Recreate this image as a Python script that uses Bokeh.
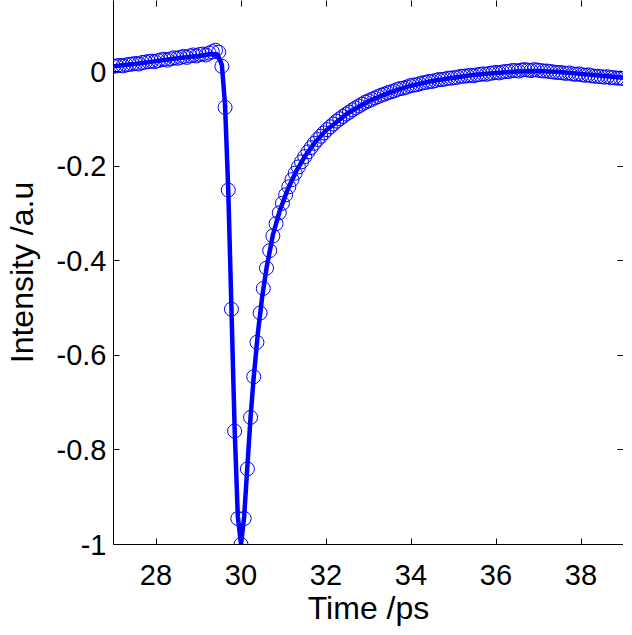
from bokeh.plotting import figure
from bokeh.models import LinearAxis, FixedTicker, Range1d, ColumnDataSource
from bokeh.embed import file_html
from bokeh.resources import INLINE

# ---------------- data ----------------
time_ps = [
    27.000, 27.075, 27.150, 27.225, 27.300, 27.375, 27.450, 27.525,
    27.600, 27.675, 27.750, 27.825, 27.900, 27.975, 28.050, 28.125,
    28.200, 28.275, 28.350, 28.425, 28.500, 28.575, 28.650, 28.725,
    28.800, 28.875, 28.950, 29.025, 29.100, 29.175, 29.250, 29.325,
    29.400, 29.475, 29.550, 29.625, 29.700, 29.775, 29.850, 29.925,
    30.000, 30.075, 30.150, 30.225, 30.300, 30.375, 30.450, 30.525,
    30.600, 30.675, 30.750, 30.825, 30.900, 30.975, 31.050, 31.125,
    31.200, 31.275, 31.350, 31.425, 31.500, 31.575, 31.650, 31.725,
    31.800, 31.875, 31.950, 32.025, 32.100, 32.175, 32.250, 32.325,
    32.400, 32.475, 32.550, 32.625, 32.700, 32.775, 32.850, 32.925,
    33.000, 33.075, 33.150, 33.225, 33.300, 33.375, 33.450, 33.525,
    33.600, 33.675, 33.750, 33.825, 33.900, 33.975, 34.050, 34.125,
    34.200, 34.275, 34.350, 34.425, 34.500, 34.575, 34.650, 34.725,
    34.800, 34.875, 34.950, 35.025, 35.100, 35.175, 35.250, 35.325,
    35.400, 35.475, 35.550, 35.625, 35.700, 35.775, 35.850, 35.925,
    36.000, 36.075, 36.150, 36.225, 36.300, 36.375, 36.450, 36.525,
    36.600, 36.675, 36.750, 36.825, 36.900, 36.975, 37.050, 37.125,
    37.200, 37.275, 37.350, 37.425, 37.500, 37.575, 37.650, 37.725,
    37.800, 37.875, 37.950, 38.025, 38.100, 38.175, 38.250, 38.325,
    38.400, 38.475, 38.550, 38.625, 38.700, 38.775, 38.850, 38.925,
    39.000,
]

intensity = [
    0.012, 0.013, 0.014, 0.013, 0.015, 0.016, 0.017, 0.018,
    0.017, 0.020, 0.021, 0.022, 0.023, 0.022, 0.024, 0.026,
    0.027, 0.025, 0.028, 0.030, 0.029, 0.031, 0.033, 0.031,
    0.034, 0.036, 0.034, 0.037, 0.038, 0.036, 0.040, 0.043,
    0.046, 0.042, 0.012, -0.075, -0.250, -0.502, -0.760, -0.945,
    -1.000, -0.945, -0.840, -0.731, -0.645, -0.572, -0.510, -0.458,
    -0.415, -0.378, -0.347, -0.321, -0.298, -0.278, -0.260, -0.243,
    -0.228, -0.214, -0.201, -0.190, -0.179, -0.169, -0.160, -0.151,
    -0.143, -0.136, -0.129, -0.122, -0.116, -0.110, -0.104, -0.099,
    -0.094, -0.089, -0.085, -0.080, -0.076, -0.072, -0.068, -0.064,
    -0.061, -0.058, -0.055, -0.052, -0.049, -0.047, -0.044, -0.042,
    -0.040, -0.037, -0.035, -0.034, -0.032, -0.029, -0.028, -0.027,
    -0.025, -0.023, -0.022, -0.020, -0.020, -0.018, -0.016, -0.016,
    -0.015, -0.013, -0.013, -0.012, -0.011, -0.009, -0.009, -0.008,
    -0.007, -0.008, -0.006, -0.005, -0.004, -0.005, -0.003, -0.002,
    -0.001, -0.002, 0.000, 0.001, 0.001, 0.003, 0.003, 0.002,
    0.004, 0.005, 0.004, 0.003, 0.005, 0.004, 0.003, 0.002,
    0.002, 0.001, 0.000, -0.001, -0.001, -0.002, -0.003, -0.002,
    -0.004, -0.005, -0.004, -0.006, -0.007, -0.006, -0.008, -0.009,
    -0.009, -0.010, -0.011, -0.010, -0.012, -0.012, -0.013, -0.013,
    -0.014,
]

fit_time_ps = [
    27.0, 27.5, 28.0, 28.5, 29.0, 29.3, 29.45, 29.55, 29.625, 29.7,
    29.775, 29.85, 29.925, 30.0, 30.075, 30.15, 30.225, 30.3, 30.4, 30.5,
    30.6, 30.75, 30.9, 31.1, 31.3, 31.5, 31.75, 32.0, 32.5, 33.0,
    33.5, 34.0, 34.5, 35.0, 35.5, 36.0, 36.5, 37.0, 37.5, 38.0,
    38.5, 39.0,
]
fit_intensity = [
    0.012, 0.017, 0.023, 0.029, 0.034, 0.038, 0.037, 0.015, -0.070, -0.250,
    -0.500, -0.755, -0.940, -1.000, -0.940, -0.835, -0.730, -0.645, -0.550, -0.475,
    -0.415, -0.345, -0.297, -0.248, -0.210, -0.179, -0.148, -0.124, -0.088, -0.062,
    -0.043, -0.029, -0.019, -0.012, -0.006, -0.002, 0.001, 0.002, 0.000, -0.004,
    -0.008, -0.012,
]

x_ticks = [28, 30, 32, 34, 36, 38]
x_tick_labels = ["28", "30", "32", "34", "36", "38"]
y_ticks = [-1.0, -0.8, -0.6, -0.4, -0.2, 0.0]
y_tick_labels = ["-1", "-0.8", "-0.6", "-0.4", "-0.2", "0"]

x_limits = (27.0, 39.0)
y_limits = (-1.0, 0.1513)

# ---------------- figure ----------------
FONT = "Liberation Sans"
BLUE = "#0000ff"

p = figure(
    frame_width=510, frame_height=544,
    x_range=Range1d(*x_limits), y_range=Range1d(*y_limits),
    output_backend="svg", toolbar_location=None,
    x_axis_location=None, y_axis_location=None,
    min_border_left=112, min_border_right=0, min_border_top=0, min_border_bottom=0,
    background_fill_color="white", border_fill_color="white",
)
p.outline_line_color = None
p.xgrid.visible = False
p.ygrid.visible = False

def style_axis(ax, ticks, labels, show_labels=True, show_line=True):
    ax.ticker = FixedTicker(ticks=ticks)
    ax.major_label_overrides = {t: l for t, l in zip(ticks, labels)}
    ax.minor_tick_line_color = None
    ax.major_tick_in = 6
    ax.major_tick_out = 0
    ax.major_tick_line_color = "black"
    ax.major_tick_line_width = 1
    ax.axis_line_color = "black" if show_line else None
    ax.axis_line_width = 1
    ax.major_label_text_font = FONT
    ax.major_label_text_color = "black"
    if not show_labels:
        ax.major_label_text_color = None
        ax.major_label_text_font_size = "1px"
        ax.major_label_standoff = 0

xb = LinearAxis(axis_label="Time /ps")
style_axis(xb, x_ticks, x_tick_labels)
xb.major_label_text_font_size = "29px"
xb.major_label_standoff = 20
xb.axis_label_text_font = FONT
xb.axis_label_text_font_size = "32px"
xb.axis_label_text_font_style = "normal"
xb.axis_label_text_color = "black"
xb.axis_label_standoff = 2
p.add_layout(xb, "below")

yl = LinearAxis(axis_label="Intensity /a.u")
style_axis(yl, y_ticks, y_tick_labels)
yl.major_label_text_font_size = "29px"
yl.major_label_standoff = 7
yl.axis_label_text_font = FONT
yl.axis_label_text_font_size = "32px"
yl.axis_label_text_font_style = "normal"
yl.axis_label_text_color = "black"
yl.axis_label_standoff = 14
p.add_layout(yl, "left")

xt = LinearAxis()
style_axis(xt, x_ticks, x_tick_labels, show_labels=False, show_line=False)
p.add_layout(xt, "above")

yr = LinearAxis()
style_axis(yr, y_ticks, y_tick_labels, show_labels=False, show_line=True)
p.add_layout(yr, "right")

src = ColumnDataSource(data=dict(t=time_ps, y=intensity))
p.scatter("t", "y", source=src, marker="circle", size=14,
          fill_color=None, line_color=BLUE, line_width=1)

fit_src = ColumnDataSource(data=dict(t=fit_time_ps, y=fit_intensity))
p.line("t", "y", source=fit_src, line_color=BLUE, line_width=4.5)

open("out.html", "w").write(file_html(p, INLINE))
